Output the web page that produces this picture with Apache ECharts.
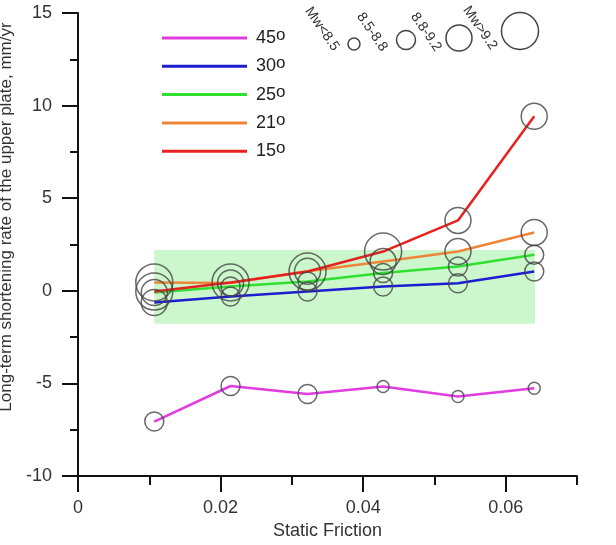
<!DOCTYPE html>
<html>
<head>
<meta charset="utf-8">
<script src="https://cdn.jsdelivr.net/npm/echarts@6/dist/echarts.min.js"></script>
<style>
  html, body { margin: 0; padding: 0; background: #fff; }
  #chart { width: 616px; height: 545px; }
</style>
</head>
<body>
<div id="chart"></div>
<script>
var chart = echarts.init(document.getElementById('chart'), null, { renderer: 'canvas' });

// static friction of each run
var friction = [0.0107, 0.0214, 0.0322, 0.0428, 0.0533, 0.064];

// shortening rate (mm/yr) per dip angle
var angles = ['45', '30', '25', '21', '15'];
var rate45 = [-7.06, -5.14, -5.57, -5.17, -5.71, -5.26];
var rate30 = [-0.63, -0.31, -0.04, 0.23, 0.41, 1.04];
var rate25 = [-0.09, 0.23, 0.5, 0.96, 1.31, 1.95];
var rate21 = [0.45, 0.42, 1.05, 1.58, 2.12, 3.15];
var rate15 = [-0.04, 0.45, 1.04, 2.12, 3.8, 9.42];

// magnitude class of each run (0: Mw<8.5, 1: 8.5-8.8, 2: 8.8-9.2, 3: Mw>9.2)
var mw45 = [1, 1, 1, 0, 0, 0];
var mw30 = [2, 1, 1, 1, 1, 1];
var mw25 = [2, 1, 1, 1, 1, 1];
var mw21 = [3, 2, 2, 2, 2, 2];
var mw15 = [3, 3, 3, 3, 2, 2];

var mwLabels = ['Mw<8.5', '8.5-8.8', '8.8-9.2', 'Mw>9.2'];
var mwSizes = [12, 19, 26, 37];

// observed range (green box)
var bandX = [0.0107, 0.0641];
var bandY = [-1.78, 2.2];

var xMajor = [0, 0.02, 0.04, 0.06];
var xMinor = [0.01, 0.03, 0.05, 0.07];

var colors = ['#e03ce0', '#1c1cd0', '#30e030', '#f0853a', '#e82020'];
var rates = [rate45, rate30, rate25, rate21, rate15];
var mws = [mw45, mw30, mw25, mw21, mw15];

function pairs(ys) {
    var out = [];
    for (var i = 0; i < friction.length; i++) out.push([friction[i], ys[i]]);
    return out;
}

var series = [{
    type: 'line',
    data: [],
    z: 1,
    silent: true,
    markArea: {
        silent: true,
        itemStyle: { color: '#ccf7cc', opacity: 1 },
        data: [[{ coord: [bandX[0], bandY[1]] }, { coord: [bandX[1], bandY[0]] }]]
    }
}];

for (var k = 0; k < angles.length; k++) {
    series.push({
        name: angles[k],
        type: 'line',
        z: 2,
        showSymbol: false,
        data: pairs(rates[k]),
        itemStyle: { color: colors[k] },
        lineStyle: { color: colors[k], width: 2.5 }
    });
}

var circles = [];
for (var k = 0; k < angles.length; k++) {
    for (var i = 0; i < friction.length; i++) {
        circles.push([friction[i], rates[k][i], mws[k][i]]);
    }
}
series.push({
    type: 'scatter',
    z: 3,
    data: circles,
    symbol: 'circle',
    symbolSize: function (d) { return mwSizes[d[2]]; },
    itemStyle: { color: 'rgba(0,0,0,0)', borderColor: '#444', borderWidth: 1.5 }
});

// magnitude key
var mwPos = [[354, 44], [406, 40], [459, 38], [520, 31]];
var mwTextPos = [[322, 29], [372, 32], [426, 32], [480, 28]];
var graphic = [];
for (var m = 0; m < mwLabels.length; m++) {
    graphic.push({
        type: 'circle',
        shape: { cx: mwPos[m][0], cy: mwPos[m][1], r: mwSizes[m] / 2 },
        style: { fill: 'none', stroke: '#444', lineWidth: 1.5 }
    });
    graphic.push({
        type: 'text',
        x: mwTextPos[m][0],
        y: mwTextPos[m][1],
        rotation: -0.97,
        style: {
            text: mwLabels[m],
            fill: '#333',
            font: '14px "Liberation Sans", Arial, sans-serif',
            align: 'center',
            verticalAlign: 'middle'
        }
    });
}

chart.setOption({
    animation: false,
    textStyle: { fontFamily: '"Liberation Sans", Arial, sans-serif' },
    grid: { left: 78, right: 39, top: 13, bottom: 69, containLabel: false, outerBoundsMode: 'none' },
    legend: {
        data: angles,
        orient: 'vertical',
        left: 157,
        top: 22,
        icon: 'rect',
        itemWidth: 85,
        itemHeight: 3,
        itemGap: 6.3,
        formatter: function (name) { return '{n|' + name + '}{o|o}'; },
        textStyle: {
            color: '#222',
            padding: [0, 0, 0, 4],
            rich: {
                n: { fontSize: 18, lineHeight: 20, color: '#222' },
                o: { fontSize: 17, lineHeight: 20, color: '#222', padding: [0, 0, 5, 0] }
            }
        }
    },
    xAxis: [{
        type: 'value',
        min: 0,
        max: 0.07,
        name: 'Static Friction',
        nameLocation: 'middle',
        nameGap: 45,
        nameTextStyle: { fontSize: 18, color: '#333' },
        splitLine: { show: false },
        axisLine: { onZero: false, lineStyle: { color: '#111', width: 2 } },
        axisTick: { show: true, length: 16, lineStyle: { color: '#111', width: 2 }, customValues: xMajor },
        axisLabel: { fontSize: 18, color: '#333', margin: 23, customValues: xMajor }
    }, {
        type: 'value',
        min: 0,
        max: 0.07,
        position: 'bottom',
        splitLine: { show: false },
        axisLine: { show: false, onZero: false },
        axisTick: { show: true, length: 9, lineStyle: { color: '#111', width: 2 }, customValues: xMinor },
        axisLabel: { show: false }
    }],
    yAxis: {
        type: 'value',
        min: -10,
        max: 15,
        interval: 5,
        name: 'Long-term shortening rate of the upper plate, mm/yr',
        nameLocation: 'middle',
        nameGap: 52,
        nameTextStyle: { fontSize: 17, color: '#333', padding: [0, 0, 0, 55] },
        splitLine: { show: false },
        axisLine: { onZero: false, lineStyle: { color: '#111', width: 2 } },
        axisTick: { length: 16, lineStyle: { color: '#111', width: 2 } },
        minorTick: { show: true, splitNumber: 2, length: 8, lineStyle: { color: '#111', width: 2 } },
        axisLabel: { fontSize: 18, color: '#333', margin: 26 }
    },
    graphic: graphic,
    series: series
});
</script>
</body>
</html>
